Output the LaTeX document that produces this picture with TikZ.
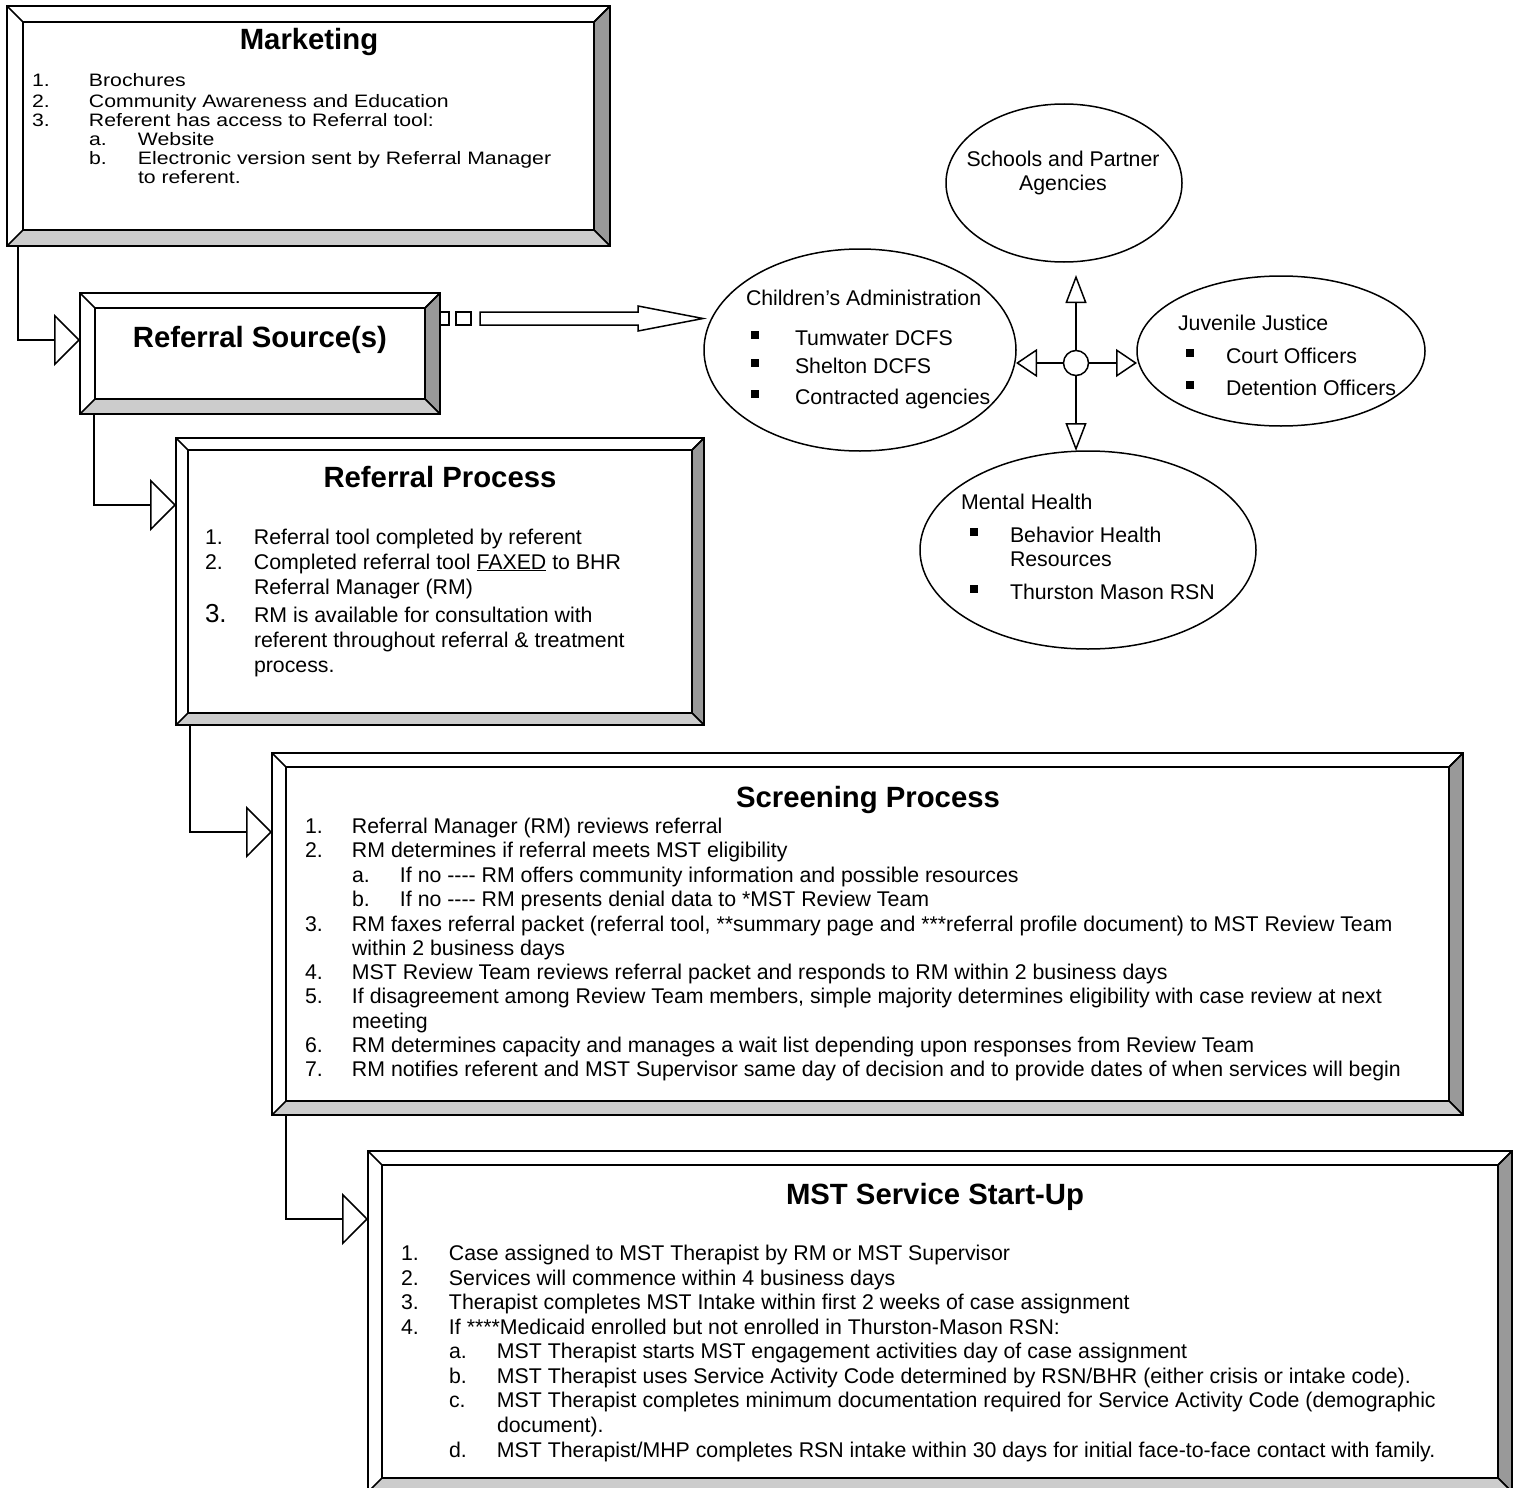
\documentclass[tikz,border=0pt]{standalone}
\usepackage{fontspec}
\setmainfont{Liberation Sans}
\newfontfamily\mktfam{Liberation Sans}[FakeStretch=1.18]
\usetikzlibrary{arrows.meta,shapes.geometric,calc}
\definecolor{bevR}{HTML}{999999}
\definecolor{bevB}{HTML}{CCCCCC}
\newcommand\fourdash{-{}-{}-{}-}
\newcommand\bodyfont{\fontsize{21.3}{24.4}\selectfont}
\newcommand\mktfont{\mktfam\fontsize{18}{19.3}\selectfont}
\newcommand\titlefont{\fontsize{29.3}{35}\selectfont\bfseries}
\newcommand\bul{\rule[6pt]{8pt}{8pt}}
\newcommand\bevel[2]{%
  \coordinate (#1-i1) at ([xshift=#2pt,yshift=-#2pt]#1.north west);
  \coordinate (#1-i2) at ([xshift=-#2pt,yshift=-#2pt]#1.north east);
  \coordinate (#1-i3) at ([xshift=-#2pt,yshift=#2pt]#1.south east);
  \coordinate (#1-i4) at ([xshift=#2pt,yshift=#2pt]#1.south west);
  \filldraw[fill=bevR,line width=1.6pt,line join=round] (#1.north east) -- (#1.south east) -- (#1-i3) -- (#1-i2) -- cycle;
  \filldraw[fill=bevB,line width=1.6pt,line join=round] (#1.south west) -- (#1.south east) -- (#1-i3) -- (#1-i4) -- cycle;
  \draw[line width=1.6pt] (#1-i1) rectangle (#1-i3);
  \draw[line width=1.6pt] (#1.north west) -- (#1-i1);
  \draw[line width=1.6pt] (#1.north east) -- (#1-i2);
  \draw[line width=1.8pt] (#1.north west) rectangle (#1.south east);
}
\begin{document}
\begin{tikzpicture}[x=1pt,y=-1pt,
  box/.style={draw,line width=1.8pt,fill=white,rectangle,inner sep=0pt,outer sep=0pt,anchor=north west},
  ell/.style={draw,ellipse,line width=1.5pt,inner sep=0pt,outer sep=0pt},
  txt/.style={font=\bodyfont,inner sep=0pt,outer sep=0pt,anchor=base west},
  mtxt/.style={font=\mktfont,inner sep=0pt,outer sep=0pt,anchor=base west},
  ctxt/.style={font=\bodyfont,inner sep=0pt,outer sep=0pt,anchor=base},
  ttl/.style={font=\titlefont,inner sep=0pt,outer sep=0pt,anchor=base},
  flow/.style={line width=1.8pt,-{Triangle[length=26pt,width=52pt,fill=white,line width=1.5pt]}},
  hubv/.style={line width=1.6pt,-{Triangle[length=28pt,width=21pt,fill=white,line width=1.5pt]}},
  hubh/.style={line width=1.6pt,-{Triangle[length=21pt,width=28pt,fill=white,line width=1.5pt]}},
  blk/.style={draw,line width=1.5pt,fill=white}
]
\useasboundingbox (0,0) rectangle (1519,1488);
\clip (0,0) rectangle (1519,1488);

% ---------- boxes ----------
\node[box,minimum width=603pt,minimum height=240pt] (mkt) at (7,6) {};
\bevel{mkt}{16}
\node[box,minimum width=360pt,minimum height=121pt] (src) at (80,293) {};
\bevel{src}{15}
\node[box,minimum width=528pt,minimum height=287pt] (proc) at (176,438) {};
\bevel{proc}{12}
\node[box,minimum width=1191pt,minimum height=362pt] (scr) at (272,753) {};
\bevel{scr}{14}
\node[box,minimum width=1144pt,minimum height=341pt] (mst) at (368,1151) {};
\bevel{mst}{14}

% ---------- Marketing text ----------
\node[ttl] (mkt-t) at (309,50) {Marketing};
\node[mtxt] (mkt-1) at (32,87) {\makebox[57pt][l]{1.}Brochures};
\node[mtxt] (mkt-2) at (32,107) {\makebox[57pt][l]{2.}Community Awareness and Education};
\node[mtxt] (mkt-3) at (32,126) {\makebox[57pt][l]{3.}Referent has access to Referral tool:};
\node[mtxt] (mkt-3a) at (89,145) {\makebox[49pt][l]{a.}Website};
\node[mtxt] (mkt-3b) at (89,164) {\makebox[49pt][l]{b.}Electronic version sent by Referral Manager};
\node[mtxt] (mkt-3c) at (138,183) {to referent.};

% ---------- Referral Source ----------
\node[ttl] (src-t) at (260,347) {Referral Source(s)};

% ---------- Referral Process ----------
\node[ttl] (proc-t) at (440,487) {Referral Process};
\node[txt] (proc-1) at (205,544) {\makebox[49pt][l]{1.}Referral tool completed by referent};
\node[txt] (proc-2) at (205,569) {\makebox[49pt][l]{2.}Completed referral tool \underline{FAXED} to BHR};
\node[txt] (proc-2b) at (254,594) {Referral Manager (RM)};
\node[txt] (proc-3) at (205,622) {\makebox[49pt][l]{\fontsize{26}{26}\selectfont 3.}RM is available for consultation with};
\node[txt] (proc-3b) at (254,647) {referent throughout referral \& treatment};
\node[txt] (proc-3c) at (254,672) {process.};

% ---------- Screening Process ----------
\node[ttl] (scr-t) at (868,807) {Screening Process};
\node[txt] (scr-1) at (305,833) {\makebox[47pt][l]{1.}Referral Manager (RM) reviews referral};
\node[txt] (scr-2) at (305,857) {\makebox[47pt][l]{2.}RM determines if referral meets MST eligibility};
\node[txt] (scr-2a) at (352,882) {\makebox[48pt][l]{a.}If no \fourdash{} RM offers community information and possible resources};
\node[txt] (scr-2b) at (352,906) {\makebox[48pt][l]{b.}If no \fourdash{} RM presents denial data to *MST Review Team};
\node[txt] (scr-3) at (305,931) {\makebox[47pt][l]{3.}RM faxes referral packet (referral tool, **summary page and ***referral profile document) to MST Review Team};
\node[txt] (scr-3b) at (352,955) {within 2 business days};
\node[txt] (scr-4) at (305,979) {\makebox[47pt][l]{4.}MST Review Team reviews referral packet and responds to RM within 2 business days};
\node[txt] (scr-5) at (305,1003) {\makebox[47pt][l]{5.}If disagreement among Review Team members, simple majority determines eligibility with case review at next};
\node[txt] (scr-5b) at (352,1028) {meeting};
\node[txt] (scr-6) at (305,1052) {\makebox[47pt][l]{6.}RM determines capacity and manages a wait list depending upon responses from Review Team};
\node[txt] (scr-7) at (305,1076) {\makebox[47pt][l]{7.}RM notifies referent and MST Supervisor same day of decision and to provide dates of when services will begin};

% ---------- MST Service Start-Up ----------
\node[ttl] (mst-t) at (935,1204) {MST Service Start-Up};
\node[txt] (mst-1) at (401,1260) {\makebox[48pt][l]{1.}Case assigned to MST Therapist by RM or MST Supervisor};
\node[txt] (mst-2) at (401,1285) {\makebox[48pt][l]{2.}Services will commence within 4 business days};
\node[txt] (mst-3) at (401,1309) {\makebox[48pt][l]{3.}Therapist completes MST Intake within first 2 weeks of case assignment};
\node[txt] (mst-4) at (401,1334) {\makebox[48pt][l]{4.}If ****Medicaid enrolled but not enrolled in Thurston-Mason RSN:};
\node[txt] (mst-4a) at (449,1358) {\makebox[48pt][l]{a.}MST Therapist starts MST engagement activities day of case assignment};
\node[txt] (mst-4b) at (449,1383) {\makebox[48pt][l]{b.}MST Therapist uses Service Activity Code determined by RSN/BHR (either crisis or intake code).};
\node[txt] (mst-4c) at (449,1407) {\makebox[48pt][l]{c.}MST Therapist completes minimum documentation required for Service Activity Code (demographic};
\node[txt] (mst-4c2) at (497,1432) {document).};
\node[txt] (mst-4d) at (449,1457) {\makebox[48pt][l]{d.}MST Therapist/MHP completes RSN intake within 30 days for initial face-to-face contact with family.};

% ---------- flow connectors ----------
\draw[flow] ([xshift=11pt]mkt.south west) |- ([yshift=13.5pt]src.west);
\draw[flow] ([xshift=14pt]src.south west) |- ([yshift=76.5pt]proc.west);
\draw[flow] ([xshift=14pt]proc.south west) |- ([yshift=102pt]scr.west);
\draw[flow] ([xshift=14pt]scr.south west) |- ([yshift=102.5pt]mst.west);

% ---------- ellipses ----------
\node[ell,minimum width=312pt,minimum height=202pt] (ch) at (860,350) {};
\node[ell,minimum width=236pt,minimum height=158pt] (sch) at (1064,183) {};
\node[ell,minimum width=288pt,minimum height=150pt] (ju) at (1281,351) {};
\node[ell,minimum width=336pt,minimum height=198pt] (mh) at (1088,550) {};

\node[ctxt] (sch-1) at (1063,166) {Schools and Partner};
\node[ctxt] (sch-2) at (1063,190) {Agencies};

\node[txt] (ch-t) at (746,305) {Children’s Administration};
\node[txt] (ch-b1) at (751,345) {\bul};
\node[txt] (ch-1) at (795,345) {Tumwater DCFS};
\node[txt] (ch-b2) at (751,373) {\bul};
\node[txt] (ch-2) at (795,373) {Shelton DCFS};
\node[txt] (ch-b3) at (751,404) {\bul};
\node[txt] (ch-3) at (795,404) {Contracted agencies};

\node[txt] (ju-t) at (1178,330) {Juvenile Justice};
\node[txt] (ju-b1) at (1186,363) {\bul};
\node[txt] (ju-1) at (1226,363) {Court Officers};
\node[txt] (ju-b2) at (1186,395) {\bul};
\node[txt] (ju-2) at (1226,395) {Detention Officers};

\node[txt] (mh-t) at (961,509) {Mental Health};
\node[txt] (mh-b1) at (970,542) {\bul};
\node[txt] (mh-1) at (1010,542) {Behavior Health};
\node[txt] (mh-1b) at (1010,566) {Resources};
\node[txt] (mh-b2) at (970,599) {\bul};
\node[txt] (mh-2) at (1010,599) {Thurston Mason RSN};

% ---------- hub ----------
\node[draw,circle,line width=1.5pt,minimum size=25pt,inner sep=0pt,fill=white] (hub) at (1076,363) {};
\coordinate (upend) at ($(hub.north |- sch.south)+(0,13)$);
\draw[hubv] (hub.north) -- (upend);
\draw[hubv] (hub.south) -- (hub.south |- mh.north);
\draw[hubh] (hub.west) -- (hub.west -| ch.east);
\draw[hubh] (hub.east) -- (hub.east -| ju.west);

% ---------- block arrow from Referral Source ----------
\coordinate (ba) at ([yshift=35pt]src.east);
\draw[blk] (ba) ++(0,-6.5) rectangle ++(9,13);
\draw[blk] (ba) ++(16,-6.5) rectangle ++(15,13);
\draw[blk,line join=miter] (ba) ++(40,-6.5) -- ++(158,0) -- ++(0,-6) -- ++(65,12.5) -- ++(-65,12.5) -- ++(0,-6) -- ++(-158,0) -- cycle;
\end{tikzpicture}
\end{document}
